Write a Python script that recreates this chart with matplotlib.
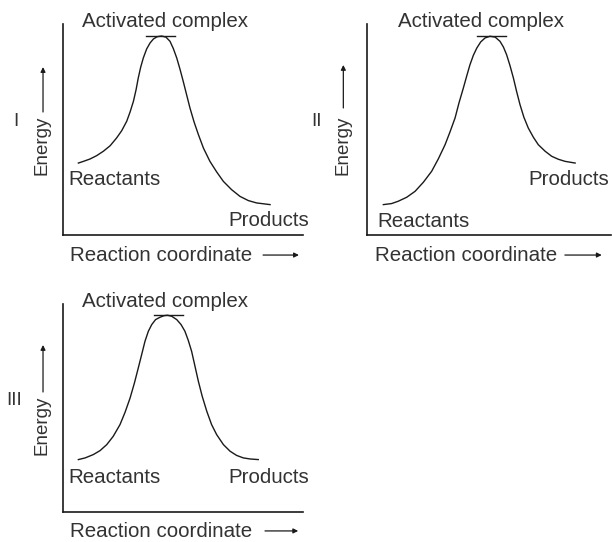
import matplotlib
matplotlib.use("Agg")
import matplotlib.pyplot as plt

plt.rcParams['font.family'] = ['Liberation Sans', 'DejaVu Sans']

# reaction coordinate / energy (0-100 scale in each panel)
x1 = [6.6, 8.7, 11.4, 14.2, 17.0, 19.8, 22.5, 24.6, 26.7, 28.1, 29.5, 30.6,
      31.5, 32.5, 33.6, 35.0, 36.4, 37.8, 39.4, 41.2, 43.0, 44.7, 46.1, 47.5,
      48.9, 50.2, 51.6, 53.0, 54.7, 56.5, 58.6, 61.3, 64.1, 66.9, 70.3, 73.8,
      77.3, 80.7, 86.3]
e1 = [34.1, 34.9, 36.0, 37.6, 39.7, 42.3, 46.0, 49.4, 53.9, 58.3, 63.4, 68.9,
      74.4, 79.5, 83.9, 88.2, 91.0, 92.9, 94.0, 94.3, 93.8, 91.8, 88.3, 83.9,
      78.4, 72.8, 66.5, 60.2, 53.6, 47.6, 41.2, 34.9, 29.9, 25.4, 21.5, 18.3,
      16.3, 15.2, 14.4]

x2 = [6.7, 10.1, 12.8, 16.3, 19.7, 23.1, 26.5, 29.2, 32.0, 34.0, 36.1, 37.7,
      39.5, 40.9, 42.2, 43.6, 45.0, 46.6, 48.4, 50.4, 52.5, 54.5, 55.9, 57.2,
      58.6, 60.0, 61.3, 62.7, 64.3, 66.1, 68.2, 70.2, 73.0, 75.7, 78.4, 81.2,
      85.3]
e2 = [14.4, 14.9, 16.0, 17.9, 20.7, 25.0, 30.2, 36.0, 42.8, 48.8, 55.5, 62.6,
      69.7, 75.5, 80.7, 85.2, 88.6, 91.5, 93.4, 94.2, 93.8, 91.8, 89.1, 85.5,
      80.3, 74.4, 68.1, 61.8, 55.8, 50.7, 46.3, 42.8, 39.7, 37.3, 35.9, 34.9,
      34.1]

x3 = [6.6, 9.4, 12.8, 15.6, 18.4, 21.1, 23.9, 26.0, 28.1, 29.9, 31.5, 32.9,
      34.3, 35.7, 37.1, 38.7, 40.5, 42.2, 43.7, 45.4, 47.5, 49.3, 50.9, 52.3,
      53.7, 55.1, 56.5, 58.1, 60.0, 62.0, 64.1, 66.9, 69.7, 72.4, 75.2, 78.0,
      81.4]
e3 = [25.2, 26.0, 27.6, 29.5, 32.4, 36.4, 42.0, 47.9, 54.8, 62.0, 69.2, 75.6,
      82.1, 86.9, 90.1, 92.5, 93.6, 94.4, 94.6, 94.1, 92.5, 90.1, 86.9, 82.5,
      77.2, 70.0, 62.8, 55.6, 48.4, 42.0, 37.2, 32.4, 29.2, 27.2, 26.0, 25.5,
      25.2]

# activated complex bar: (start, end, energy)
bar1 = (34.7, 46.8, 94.3)
bar2 = (45.0, 56.8, 94.2)
bar3 = (38.0, 50.0, 94.6)

numerals = ['I', 'II', 'III']

txt_color = '#333333'
line_color = '#1a1a1a'
fs = 14.8

fig = plt.figure(figsize=(6.12, 5.42), dpi=100)

# axes boxes in figure fractions
boxes = [
    [62.5 / 612, 1 - 235 / 542, 240.5 / 612, 211 / 542],
    [367 / 612, 1 - 235 / 542, 244 / 612, 211 / 542],
    [62.5 / 612, 1 - 512 / 542, 240.5 / 612, 208 / 542],
]

# label positions per panel (axes data units)
layout = [
    dict(act=(42.8, 98.6), rea=(21.6, 23.7), pro=(85.9, 4.3), rc=(3.1, -12.3),
         arr_x=(83.4, 98.3, -9.5), en=(-8.6, 42.5), arr_y=(-8.1, 58.3, 79.6),
         num=(-19.3, 53.6)),
    dict(act=(46.7, 98.6), rea=(23.2, 3.8), pro=(82.8, 23.7), rc=(3.3, -12.3),
         arr_x=(81.1, 96.2, -9.5), en=(-9.9, 42.5), arr_y=(-9.7, 60.2, 80.6),
         num=(-20.5, 53.6)),
    dict(act=(42.8, 98.7), rea=(21.6, 13.8), pro=(85.9, 13.8), rc=(3.1, -12.0),
         arr_x=(84.2, 98.0, -9.1), en=(-8.6, 41.7), arr_y=(-8.1, 57.7, 80.3),
         num=(-20.2, 53.4)),
]

curves = [(x1, e1, bar1), (x2, e2, bar2), (x3, e3, bar3)]

for i in range(3):
    ax = fig.add_axes(boxes[i])
    xs, es, bar = curves[i]
    L = layout[i]

    ax.plot(xs, es, color=line_color, lw=1.0, solid_joinstyle='round')
    ax.plot([bar[0], bar[1]], [bar[2], bar[2]], color=line_color, lw=1.0)

    ax.set_xlim(0, 100)
    ax.set_ylim(0, 100)
    for s in ['top', 'right']:
        ax.spines[s].set_visible(False)
    for s in ['left', 'bottom']:
        ax.spines[s].set_linewidth(1.2)
        ax.spines[s].set_color(line_color)
    ax.set_xticks([])
    ax.set_yticks([])
    ax.patch.set_alpha(0)

    kw = dict(color=txt_color, clip_on=False)
    ax.text(L['act'][0], L['act'][1], 'Activated complex', fontsize=fs, ha='center', va='baseline', **kw)
    ax.text(L['rea'][0], L['rea'][1], 'Reactants', fontsize=fs, ha='center', va='baseline', **kw)
    ax.text(L['pro'][0], L['pro'][1], 'Products', fontsize=fs, ha='center', va='baseline', **kw)
    ax.text(L['rc'][0], L['rc'][1], 'Reaction coordinate', fontsize=fs, ha='left', va='baseline', **kw)
    ax.text(L['en'][0], L['en'][1], 'Energy', fontsize=13.5, ha='center', va='center', rotation=90, **kw)
    ax.text(L['num'][0], L['num'][1], numerals[i], fontsize=13.5, ha='center', va='center', **kw)

    # little arrows next to the axis names
    a = L['arr_x']
    ax.annotate('', xy=(a[1], a[2]), xytext=(a[0], a[2]), annotation_clip=False,
                arrowprops=dict(arrowstyle='-|>', lw=0.9, color=line_color,
                                mutation_scale=7, shrinkA=0, shrinkB=0))
    a = L['arr_y']
    ax.annotate('', xy=(a[0], a[2]), xytext=(a[0], a[1]), annotation_clip=False,
                arrowprops=dict(arrowstyle='-|>', lw=0.9, color=line_color,
                                mutation_scale=7, shrinkA=0, shrinkB=0))

plt.savefig('out.png', dpi=100)
